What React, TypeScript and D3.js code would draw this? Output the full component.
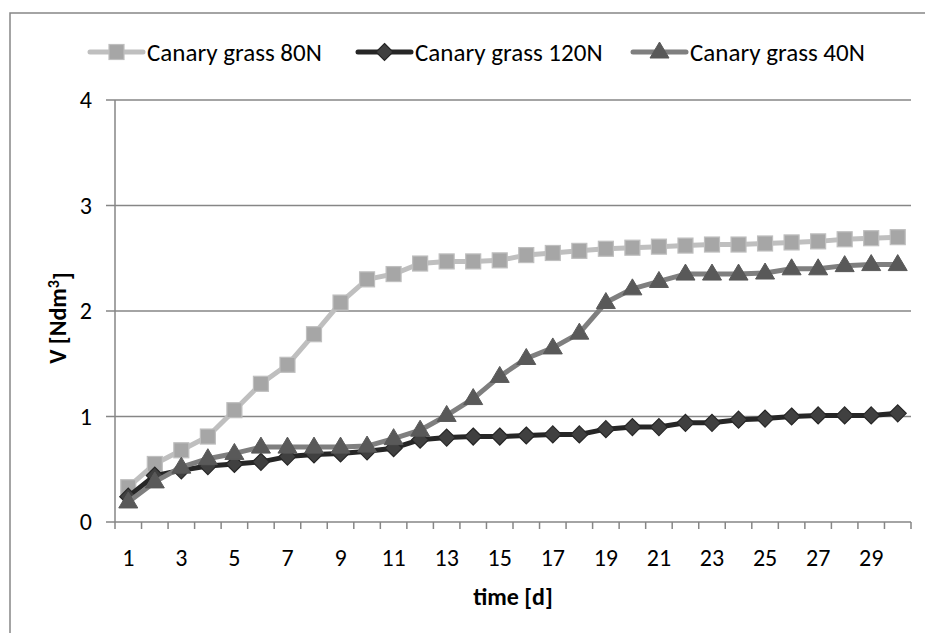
import * as d3 from "d3";

const days = d3.range(1, 31);
const tickDays = [1, 3, 5, 7, 9, 11, 13, 15, 17, 19, 21, 23, 25, 27, 29];
const yTicks = [0, 1, 2, 3, 4];

const grass80 = [0.33, 0.55, 0.68, 0.81, 1.06, 1.31, 1.49, 1.78, 2.08, 2.30, 2.35, 2.45, 2.47, 2.47, 2.48, 2.53, 2.55, 2.57, 2.59, 2.60, 2.61, 2.62, 2.63, 2.63, 2.64, 2.65, 2.66, 2.68, 2.69, 2.70];
const grass120 = [0.24, 0.44, 0.49, 0.53, 0.55, 0.57, 0.62, 0.64, 0.65, 0.67, 0.70, 0.78, 0.80, 0.81, 0.81, 0.82, 0.83, 0.83, 0.88, 0.90, 0.90, 0.94, 0.94, 0.97, 0.98, 1.00, 1.01, 1.01, 1.01, 1.03];
const grass40 = [0.19, 0.38, 0.52, 0.60, 0.65, 0.71, 0.71, 0.71, 0.71, 0.72, 0.79, 0.87, 1.01, 1.17, 1.38, 1.55, 1.65, 1.79, 2.08, 2.21, 2.28, 2.35, 2.35, 2.35, 2.36, 2.40, 2.40, 2.43, 2.44, 2.44];

const FONT = "Carlito, Calibri, Lato, sans-serif";

type Series = { name: string; values: number[]; line: string; fill: string; edge: string; marker: "square" | "diamond" | "triangle" };
const series: Series[] = [
  { name: "Canary grass 80N", values: grass80, line: "#bfbfbf", fill: "#a6a6a6", edge: "#bfbfbf", marker: "square" },
  { name: "Canary grass 120N", values: grass120, line: "#262626", fill: "#404040", edge: "#262626", marker: "diamond" },
  { name: "Canary grass 40N", values: grass40, line: "#7f7f7f", fill: "#595959", edge: "#595959", marker: "triangle" },
];

const W = 925, H = 633;
const L = 115, R = 911, T = 100, B = 522;

function Marker({ kind, x, y, fill, edge }: { kind: Series["marker"]; x: number; y: number; fill: string; edge: string }) {
  if (kind === "square") return <rect x={x - 7.5} y={y - 7.5} width={15} height={15} fill={fill} stroke={edge} strokeWidth={1.2} />;
  if (kind === "diamond") return <path d={`M${x},${y - 8.5}L${x + 8.5},${y}L${x},${y + 8.5}L${x - 8.5},${y}Z`} fill={fill} stroke={edge} strokeWidth={1.2} />;
  return <path d={`M${x},${y - 10}L${x + 9.5},${y + 6}L${x - 9.5},${y + 6}Z`} fill={fill} stroke={edge} strokeWidth={1} />;
}

export default function App() {
  const x = d3.scaleBand<number>().domain(days).range([L, R]);
  const cx = (d: number) => x(d)! + x.bandwidth() / 2;
  const y = d3.scaleLinear().domain([0, 4]).range([B, T]);
  const line = d3.line<number>().x((_, i) => cx(days[i])).y(v => y(v));

  const legendX = [90, 358, 633];

  return (
    <svg width={W} height={H} style={{ position: "absolute", left: 0, top: 0 }} fontFamily={FONT}>
      <rect width={W} height={H} fill="#fff" />
      <path d={`M10,${H}V13H${W}`} fill="none" stroke="#868686" strokeWidth={1.5} />

      {yTicks.map(t => (
        <g key={t}>
          <line x1={106} x2={R} y1={y(t)} y2={y(t)} stroke="#868686" strokeWidth={1.5} />
          <text x={92} y={y(t)} dy="0.35em" textAnchor="end" fontSize={24} fill="#000">{t}</text>
        </g>
      ))}
      <line x1={L} x2={L} y1={T} y2={B} stroke="#868686" strokeWidth={1.5} />
      {[...days.map(d => x(d)!), R].map((v, i) => (
        <line key={i} x1={v} x2={v} y1={B} y2={B + 7} stroke="#868686" strokeWidth={1.5} />
      ))}
      {tickDays.map(d => (
        <text key={d} x={cx(d)} y={558} dy="0.35em" textAnchor="middle" fontSize={24} fill="#000">{d}</text>
      ))}

      <text x={(L + R) / 2} y={597} dy="0.35em" textAnchor="middle" fontSize={24} fontWeight="bold">time [d]</text>
      <text transform={`translate(58,318) rotate(-90)`} textAnchor="middle" dy="0.35em" fontSize={24} fontWeight="bold">
        V [Ndm<tspan dy="-0.45em" fontSize={16}>3</tspan><tspan dy="0.45em">]</tspan>
      </text>

      {series.map(s => (
        <g key={s.name}>
          <path d={line(s.values)!} fill="none" stroke={s.line} strokeWidth={5} strokeLinejoin="round" />
          {s.values.map((v, i) => (
            <Marker key={i} kind={s.marker} x={cx(days[i])} y={y(v)} fill={s.fill} edge={s.edge} />
          ))}
        </g>
      ))}

      {series.map((s, i) => (
        <g key={s.name} transform={`translate(${legendX[i]},52)`}>
          <line x1={0} x2={53} y1={0} y2={0} stroke={s.line} strokeWidth={5} strokeLinecap="round" />
          <Marker kind={s.marker} x={26.5} y={0} fill={s.fill} edge={s.edge} />
          <text x={57} y={0} dy="0.35em" fontSize={25} fill="#000">{s.name}</text>
        </g>
      ))}
    </svg>
  );
}
